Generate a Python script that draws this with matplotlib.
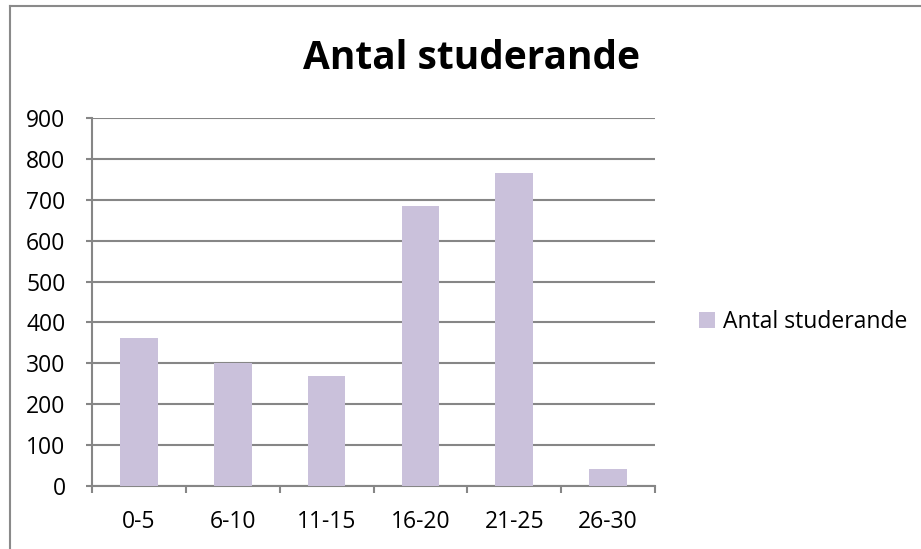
import matplotlib
matplotlib.use("Agg")
import matplotlib.pyplot as plt
from matplotlib.lines import Line2D
import numpy as np

categories = ["0-5", "6-10", "11-15", "16-20", "21-25", "26-30"]
values = [363, 301, 270, 685, 765, 42]
series_name = "Antal studerande"
title = "Antal studerande"
yticks = [0, 100, 200, 300, 400, 500, 600, 700, 800, 900]

plt.rcParams['font.family'] = ['Open Sans', 'DejaVu Sans']
W, H = 921, 549
fig = plt.figure(figsize=(W / 100, H / 100), dpi=100)
fig.patch.set_facecolor("white")

left, right, bottom, top = 92, 655, 486, 118
ax = fig.add_axes([left / W, 1 - bottom / H, (right - left) / W, (bottom - top) / H])

grey = "#868686"
bar_color = "#CAC1DB"
fs = 16.5
x = np.arange(len(categories))
ax.bar(x, values, width=0.4, color=bar_color, label=series_name, zorder=3)

ax.set_xlim(-0.5, len(categories) - 0.5)
ax.set_ylim(0, 900)
ax.set_yticks(yticks)
ax.set_yticklabels([str(v) for v in yticks], fontsize=fs)
ax.yaxis.grid(True, color=grey, linewidth=1.5, zorder=0)
ax.set_axisbelow(True)

ax.set_xticks(np.arange(-0.5, len(categories), 1.0))
ax.set_xticklabels([])
ax.set_xticks(x, minor=True)
ax.set_xticklabels(categories, minor=True, fontsize=fs)
ax.tick_params(axis='x', which='major', direction='out', length=5, width=1.5, color=grey)
ax.tick_params(axis='x', which='minor', length=0, pad=17)
ax.tick_params(axis='y', direction='out', length=4, width=1.5, color=grey, pad=15)

for s in ['top', 'right']:
    ax.spines[s].set_visible(False)
for s in ['left', 'bottom']:
    ax.spines[s].set_color(grey)
    ax.spines[s].set_linewidth(1.5)

fig.text(471 / W, 1 - 69 / H, title, fontsize=28, fontweight='bold',
         ha='center', va='baseline')

leg = fig.legend(loc='center left', bbox_to_anchor=(690 / W, 1 - 322 / H),
                 frameon=False, fontsize=fs, handlelength=0.7, handleheight=0.7,
                 handletextpad=0.35, borderaxespad=0)

fig.add_artist(Line2D([10 / W, 10 / W], [0, 1 - 6 / H], transform=fig.transFigure,
                      color="#8a8a8a", linewidth=1.5))
fig.add_artist(Line2D([10 / W, 1], [1 - 6 / H, 1 - 6 / H], transform=fig.transFigure,
                      color="#8a8a8a", linewidth=1.5))

fig.savefig("out.png", dpi=100, facecolor="white")
